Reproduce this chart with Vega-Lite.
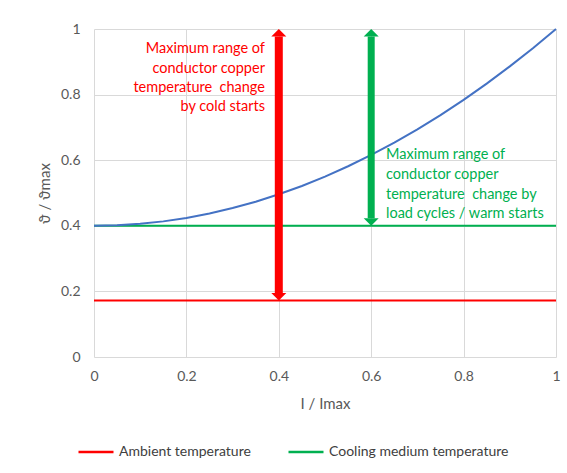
{
  "$schema": "https://vega.github.io/schema/vega-lite/v6.json",
  "width": 462,
  "height": 328,
  "autosize": {"type": "none"},
  "padding": {"left": 94, "top": 29, "right": 11, "bottom": 116},
  "background": "white",
  "config": {
    "font": "Lato",
    "view": {"stroke": null},
    "axis": {
      "grid": true,
      "gridColor": "#d9d9d9",
      "gridWidth": 1,
      "domain": false,
      "ticks": false,
      "labelColor": "#595959",
      "labelFontSize": 14,
      "titleColor": "#595959",
      "titleFontSize": 15,
      "titleFontWeight": "normal",
      "labelFont": "Lato",
      "titleFont": "Lato",
      "labelFlush": false,
      "format": "~g"
    },
    "legend": {
      "labelColor": "#404040",
      "labelFontSize": 14,
      "labelFont": "Lato",
      "labelLimit": 0
    }
  },
  "datasets": {
    "refs": [
      {"series": "Ambient temperature", "x": 0, "y": 0.172},
      {"series": "Ambient temperature", "x": 1, "y": 0.172},
      {"series": "Cooling medium temperature", "x": 0, "y": 0.4},
      {"series": "Cooling medium temperature", "x": 1, "y": 0.4}
    ],
    "curve": [
      {"x": 0, "y": 0.4}, {"x": 0.05, "y": 0.4015}, {"x": 0.1, "y": 0.406},
      {"x": 0.15, "y": 0.4135}, {"x": 0.2, "y": 0.424}, {"x": 0.25, "y": 0.4375},
      {"x": 0.3, "y": 0.454}, {"x": 0.35, "y": 0.4735}, {"x": 0.4, "y": 0.496},
      {"x": 0.45, "y": 0.5215}, {"x": 0.5, "y": 0.55}, {"x": 0.55, "y": 0.5815},
      {"x": 0.6, "y": 0.616}, {"x": 0.65, "y": 0.6535}, {"x": 0.7, "y": 0.694},
      {"x": 0.75, "y": 0.7375}, {"x": 0.8, "y": 0.784}, {"x": 0.85, "y": 0.8335},
      {"x": 0.9, "y": 0.886}, {"x": 0.95, "y": 0.9415}, {"x": 1, "y": 1.0}
    ],
    "shafts": [
      {"arrow": "cold", "x": 0.4, "y": 0.195, "y2": 0.977, "col": "#ff0000", "w": 8},
      {"arrow": "warm", "x": 0.6, "y": 0.423, "y2": 0.977, "col": "#00b050", "w": 7}
    ],
    "heads": [
      {"arrow": "cold", "x": 0.4, "y": 1.0, "dir": "up", "col": "#ff0000"},
      {"arrow": "cold", "x": 0.4, "y": 0.172, "dir": "down", "col": "#ff0000"},
      {"arrow": "warm", "x": 0.6, "y": 1.0, "dir": "up", "col": "#00b050"},
      {"arrow": "warm", "x": 0.6, "y": 0.4, "dir": "down", "col": "#00b050"}
    ],
    "redtext": [
      {"x": 0.37, "y": 0.939, "t": "Maximum range of"},
      {"x": 0.37, "y": 0.878, "t": "conductor copper"},
      {"x": 0.37, "y": 0.82, "t": "temperature\u00a0 change"},
      {"x": 0.37, "y": 0.762, "t": "by cold starts"}
    ],
    "greentext": [
      {"x": 0.632, "y": 0.616, "t": "Maximum range of"},
      {"x": 0.632, "y": 0.555, "t": "conductor copper"},
      {"x": 0.632, "y": 0.494, "t": "temperature\u00a0 change by"},
      {"x": 0.632, "y": 0.436, "t": "load cycles / warm starts"}
    ]
  },
  "encoding": {
    "x": {"field": "x", "type": "quantitative", "scale": {"domain": [0, 1], "nice": false},
          "axis": {"values": [0, 0.2, 0.4, 0.6, 0.8, 1], "title": "I / Imax", "labelPadding": 12, "titlePadding": 13}},
    "y": {"field": "y", "type": "quantitative", "scale": {"domain": [0, 1], "nice": false},
          "axis": {"values": [0, 0.2, 0.4, 0.6, 0.8, 1], "title": "ϑ / ϑmax", "labelPadding": 14, "titlePadding": 8}}
  },
  "layer": [
    {
      "data": {"name": "refs"},
      "mark": {"type": "line", "strokeWidth": 2},
      "encoding": {
        "color": {
          "field": "series", "type": "nominal",
          "scale": {"domain": ["Ambient temperature", "Cooling medium temperature"], "range": ["#ff0000", "#00b050"]},
          "legend": {
            "title": null, "orient": "none", "direction": "horizontal",
            "legendX": -17, "legendY": 404,
            "symbolType": "stroke", "symbolSize": 1225, "symbolStrokeWidth": 2.5,
            "labelOffset": 4, "columnPadding": 32
          }
        }
      }
    },
    {
      "data": {"name": "curve"},
      "mark": {"type": "line", "strokeWidth": 2, "color": "#4472c4"},
      "encoding": {}
    },
    {
      "data": {"name": "shafts"},
      "mark": {"type": "rule", "strokeCap": "butt"},
      "encoding": {
        "y2": {"field": "y2"},
        "color": {"field": "col", "type": "nominal", "scale": null, "legend": null},
        "strokeWidth": {"field": "w", "type": "quantitative", "scale": null, "legend": null}
      }
    },
    {
      "data": {"name": "heads"},
      "mark": {"type": "point", "filled": true, "opacity": 1, "size": 225, "strokeWidth": 0},
      "encoding": {
        "shape": {"field": "dir", "type": "nominal",
                  "scale": {"domain": ["up", "down"], "range": ["M0,0L1,1L-1,1Z", "M0,0L1,-1L-1,-1Z"]},
                  "legend": null},
        "color": {"field": "col", "type": "nominal", "scale": null, "legend": null}
      }
    },
    {
      "data": {"name": "redtext"},
      "mark": {"type": "text", "align": "right", "baseline": "middle", "fontSize": 14.5, "color": "#ff0000"},
      "encoding": {"text": {"field": "t"}}
    },
    {
      "data": {"name": "greentext"},
      "mark": {"type": "text", "align": "left", "baseline": "middle", "fontSize": 14.5, "color": "#00b050"},
      "encoding": {"text": {"field": "t"}}
    }
  ]
}
